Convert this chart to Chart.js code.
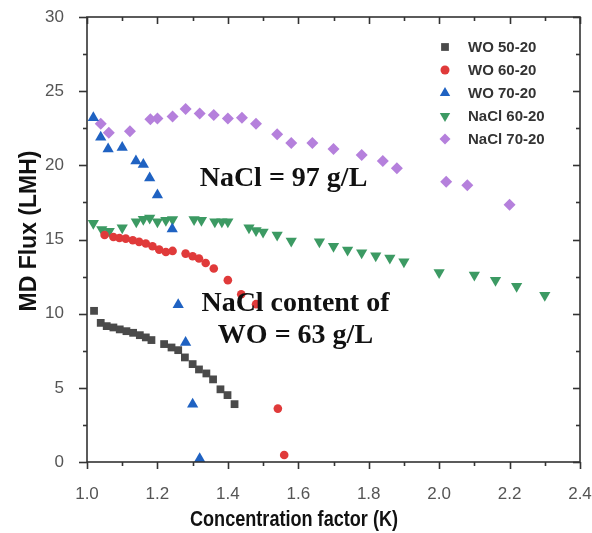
<!DOCTYPE html>
<html>
<head>
<meta charset="utf-8">
<script src="https://cdn.jsdelivr.net/npm/chart.js@4/dist/chart.umd.min.js"></script>
<style>
  body { margin: 0; background: #fff; }
  #wrap { width: 592px; height: 533px; }
</style>
</head>
<body>
<div id="wrap"><canvas id="flux" width="592" height="533"></canvas></div>
<script>
// concentration factor (K) and MD flux (LMH)
const wo50K = [1.02, 1.039, 1.056, 1.075, 1.093, 1.112, 1.131, 1.15, 1.167, 1.183, 1.219, 1.24, 1.259, 1.278, 1.30, 1.318, 1.339, 1.358, 1.379, 1.399, 1.419];
const wo50Flux = [10.19, 9.38, 9.16, 9.07, 8.94, 8.82, 8.71, 8.55, 8.40, 8.22, 7.95, 7.72, 7.54, 7.05, 6.60, 6.24, 5.97, 5.57, 4.90, 4.51, 3.90];

const wo60K = [1.05, 1.075, 1.092, 1.11, 1.13, 1.148, 1.167, 1.186, 1.205, 1.224, 1.243, 1.28, 1.30, 1.318, 1.337, 1.36, 1.40, 1.438, 1.48, 1.542, 1.56];
const wo60Flux = [15.3, 15.17, 15.1, 15.06, 14.95, 14.84, 14.73, 14.55, 14.32, 14.16, 14.23, 14.05, 13.87, 13.72, 13.42, 13.04, 12.26, 11.31, 10.64, 3.6, 0.47];

const wo70K = [1.018, 1.039, 1.06, 1.10, 1.139, 1.16, 1.178, 1.20, 1.242, 1.259, 1.28, 1.30, 1.32];
const wo70Flux = [23.2, 21.9, 21.1, 21.2, 20.3, 20.05, 19.15, 18.0, 15.7, 10.6, 8.05, 3.9, 0.22];

const nacl60K = [1.018, 1.042, 1.063, 1.10, 1.14, 1.16, 1.178, 1.20, 1.224, 1.243, 1.304, 1.325, 1.363, 1.383, 1.40, 1.46, 1.48, 1.50, 1.54, 1.58, 1.66, 1.70, 1.74, 1.78, 1.82, 1.86, 1.90, 2.00, 2.10, 2.16, 2.22, 2.30];
const nacl60Flux = [16.1, 15.67, 15.55, 15.8, 16.2, 16.36, 16.45, 16.2, 16.3, 16.35, 16.35, 16.3, 16.2, 16.2, 16.2, 15.8, 15.6, 15.5, 15.3, 14.9, 14.85, 14.55, 14.3, 14.1, 13.9, 13.75, 13.5, 12.77, 12.6, 12.25, 11.85, 11.25];

const nacl70K = [1.039, 1.062, 1.122, 1.18, 1.20, 1.243, 1.28, 1.32, 1.36, 1.40, 1.44, 1.48, 1.54, 1.58, 1.64, 1.70, 1.78, 1.84, 1.88, 2.02, 2.08, 2.20];
const nacl70Flux = [22.8, 22.2, 22.3, 23.1, 23.15, 23.3, 23.8, 23.5, 23.4, 23.15, 23.2, 22.8, 22.1, 21.5, 21.5, 21.1, 20.7, 20.3, 19.8, 18.9, 18.65, 17.35];

const seriesNames = ['WO 50-20', 'WO 60-20', 'WO 70-20', 'NaCl 60-20', 'NaCl 70-20'];
const xTicks = [1.0, 1.2, 1.4, 1.6, 1.8, 2.0, 2.2, 2.4];
const yTicks = [0, 5, 10, 15, 20, 25, 30];

const sans = 'Arial, "Liberation Sans", sans-serif';
const serif = '"Liberation Serif", "Times New Roman", serif';

function pts(xs, ys) {
  return xs.map((k, i) => ({ x: k, y: ys[i] }));
}

// axis frame with inner/outer ticks like the origin plot
const frame = {
  id: 'frame',
  afterDraw(chart) {
    const { ctx, chartArea: a, scales: { x, y } } = chart;
    ctx.save();
    ctx.strokeStyle = '#333';
    ctx.lineWidth = 1.6;
    ctx.strokeRect(a.left, a.top, a.right - a.left, a.bottom - a.top);
    const line = (x1, y1, x2, y2) => {
      ctx.beginPath(); ctx.moveTo(x1, y1); ctx.lineTo(x2, y2); ctx.stroke();
    };
    for (let k = 10; k <= 24; k++) {
      const px = Math.round(x.getPixelForValue(k / 10)) + 0.5;
      const major = k % 2 === 0;
      line(px, a.bottom, px, a.bottom + (major ? 7 : 4));
      line(px, a.top, px, a.top + (major ? 7 : 4));
    }
    for (let v = 0; v <= 30; v += 2.5) {
      const py = Math.round(y.getPixelForValue(v)) + 0.5;
      const major = v % 5 === 0;
      line(a.left, py, a.left - (major ? 8 : 4), py);
      line(a.right, py, a.right - (major ? 7 : 4), py);
    }
    ctx.restore();
  }
};

// axis titles, annotations and the legend inside the plot
const labels = {
  id: 'labels',
  afterDraw(chart) {
    const { ctx, scales: { x, y } } = chart;
    ctx.save();
    ctx.fillStyle = '#111';
    ctx.textAlign = 'center';
    ctx.textBaseline = 'middle';

    ctx.font = 'bold 22px ' + sans;
    ctx.fillText('Concentration factor (K)', 294, 520, 208);

    ctx.save();
    ctx.translate(30, 231);
    ctx.rotate(-Math.PI / 2);
    ctx.font = 'bold 23px ' + sans;
    ctx.fillText('MD Flux (LMH)', 0, 0, 164);
    ctx.restore();

    ctx.textBaseline = 'alphabetic';
    ctx.font = 'bold 28px ' + serif;
    ctx.fillText('NaCl = 97 g/L', x.getPixelForValue(1.558), y.getPixelForValue(18.6), 168);
    ctx.fillText('NaCl content of', x.getPixelForValue(1.592), y.getPixelForValue(10.17), 188);
    ctx.fillText('WO = 63 g/L', x.getPixelForValue(1.592), y.getPixelForValue(8.0), 156);

    ctx.textAlign = 'left';
    ctx.textBaseline = 'middle';
    ctx.font = 'bold 15px ' + sans;
    chart.data.datasets.forEach((ds, i) => {
      const ly = 47 + i * 23;
      ctx.fillStyle = ds.backgroundColor;
      Chart.helpers.drawPoint(ctx, {
        pointStyle: ds.pointStyle,
        radius: ds.legendRadius,
        rotation: ds.rotation || 0,
        borderWidth: 0
      }, 445, ly);
      ctx.fillStyle = '#333';
      ctx.fillText(ds.label, 468, ly + 1);
    });
    ctx.restore();
  }
};

const datasets = [
  { label: seriesNames[0], data: pts(wo50K, wo50Flux), backgroundColor: '#4a4a4a', pointStyle: 'rect', pointRadius: 5.5, legendRadius: 5.5 },
  { label: seriesNames[1], data: pts(wo60K, wo60Flux), backgroundColor: '#e03a3a', pointStyle: 'circle', pointRadius: 4.3, legendRadius: 4.5 },
  { label: seriesNames[2], data: pts(wo70K, wo70Flux), backgroundColor: '#1f62c2', pointStyle: 'triangle', pointRadius: 6.5, legendRadius: 6 },
  { label: seriesNames[3], data: pts(nacl60K, nacl60Flux), backgroundColor: '#3c9a63', pointStyle: 'triangle', pointRadius: 6.5, rotation: 180, pointRotation: 180, legendRadius: 6 },
  { label: seriesNames[4], data: pts(nacl70K, nacl70Flux), backgroundColor: '#b580dc', pointStyle: 'rectRot', pointRadius: 6, legendRadius: 5.5 }
];
datasets.forEach(ds => {
  ds.borderWidth = 0;
  ds.borderColor = ds.backgroundColor;
  ds.showLine = false;
});

new Chart(document.getElementById('flux'), {
  type: 'scatter',
  data: { datasets: datasets },
  options: {
    responsive: false,
    animation: false,
    devicePixelRatio: 1,
    layout: { padding: { top: 17, right: 12, left: 0, bottom: 0 } },
    plugins: {
      legend: { display: false },
      tooltip: { enabled: false }
    },
    scales: {
      x: {
        type: 'linear',
        min: 1.0,
        max: 2.4,
        afterFit(s) {
          s.height = 71;
          s.paddingLeft = 0;
          s.paddingRight = 0;
        },
        afterBuildTicks(s) { s.ticks = xTicks.map(v => ({ value: v })); },
        ticks: {
          color: '#555',
          font: { family: sans, size: 17 },
          padding: 14,
          maxRotation: 0,
          callback: v => Number(v).toFixed(1)
        },
        grid: { display: false },
        border: { display: false }
      },
      y: {
        type: 'linear',
        min: 0,
        max: 30,
        afterFit(s) {
          s.width = 87;
          s.paddingTop = 0;
          s.paddingBottom = 0;
        },
        afterBuildTicks(s) { s.ticks = yTicks.map(v => ({ value: v })); },
        ticks: {
          color: '#555',
          font: { family: sans, size: 17 },
          padding: 15
        },
        grid: { display: false },
        border: { display: false }
      }
    }
  },
  plugins: [frame, labels]
});
</script>
</body>
</html>
